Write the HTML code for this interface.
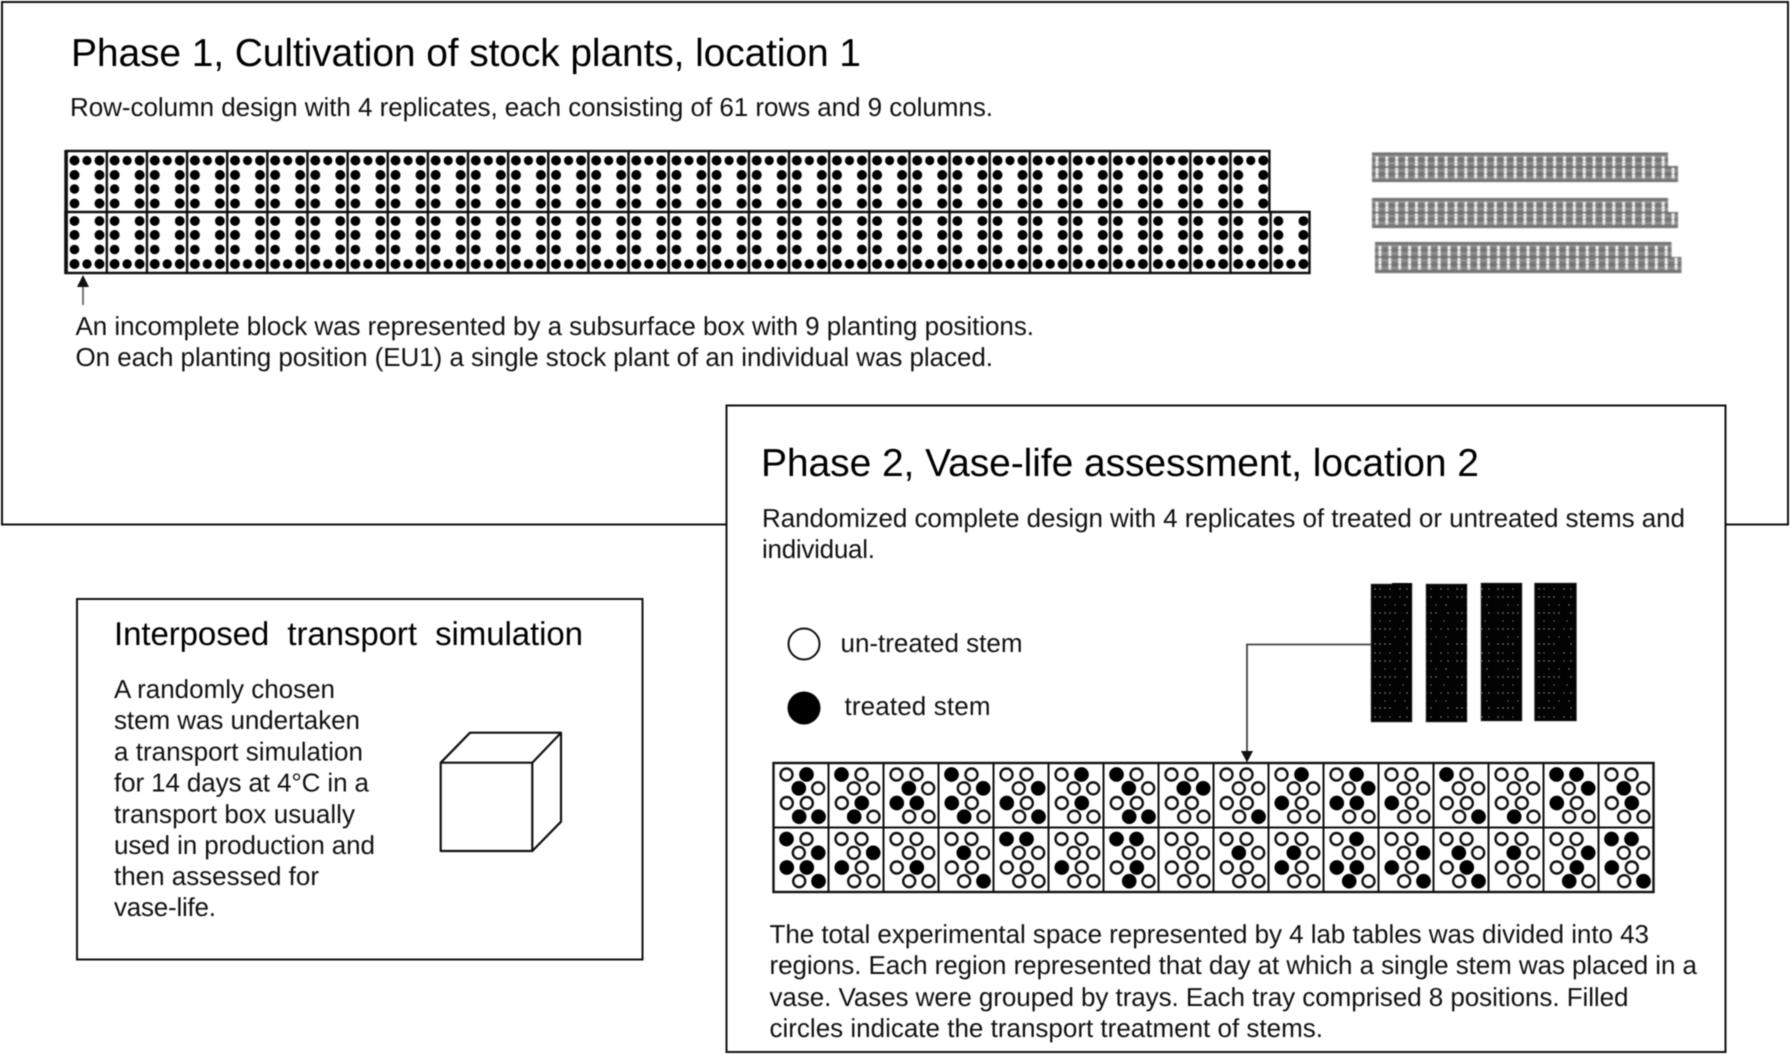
<!DOCTYPE html>
<html lang="en"><head><meta charset="utf-8"><title>Experimental design phases</title>
<style>
html,body{margin:0;padding:0;background:#fff;width:1792px;height:1057px;overflow:hidden}
svg{display:block;filter:blur(.4px)}
text{font-family:"Liberation Sans",Arial,sans-serif;fill:#111;font-size:26px;text-rendering:geometricPrecision}
.t{font-size:39px;fill:#000}
.s{font-size:33px;fill:#000}
</style></head><body>
<svg xmlns="http://www.w3.org/2000/svg" width="1792" height="1057" viewBox="0 0 1792 1057">
<defs>
<filter id="soft" x="-2%" y="-10%" width="104%" height="120%"><feGaussianBlur stdDeviation=".6"/></filter>
<pattern id="pt" patternUnits="userSpaceOnUse" x="65.5" y="150" width="40.13" height="62">
<rect width="40.13" height="62" fill="#fff"/><rect width="2.400" height="62" fill="#111"/>
<g fill="#000"><circle cx="9" cy="10.500" r="5"/><circle cx="21.500" cy="10.500" r="4.600"/><circle cx="34" cy="10.500" r="5"/>
<circle cx="9" cy="25" r="5"/><circle cx="34" cy="25" r="5"/><circle cx="9" cy="39" r="4.700"/><circle cx="34" cy="39" r="4.900"/><circle cx="9" cy="53.500" r="4.900"/><circle cx="34" cy="53.500" r="5"/></g></pattern>
<pattern id="pb" patternUnits="userSpaceOnUse" x="65.5" y="212" width="40.13" height="62">
<rect width="40.13" height="62" fill="#fff"/><rect width="2.400" height="62" fill="#111"/>
<g fill="#000"><circle cx="9" cy="9" r="4.900"/><circle cx="34" cy="9" r="4.900"/><circle cx="9" cy="23" r="5"/><circle cx="34" cy="23" r="5"/>
<circle cx="9" cy="37.500" r="4.800"/><circle cx="34" cy="37.500" r="4.900"/><circle cx="9" cy="52" r="5"/><circle cx="21.500" cy="52" r="4.700"/><circle cx="34" cy="52" r="5"/></g></pattern>
<pattern id="g1" patternUnits="userSpaceOnUse" x="1372" y="152.500" width="9.870" height="29.500">
<rect width="9.870" height="29.500" fill="#7c7c7c"/>
<g fill="#fff"><rect x="3.600" y="3.500" width="2.700" height="10"/><rect x="3.600" y="15.500" width="2.700" height="10.500"/></g>
<g fill="#555" opacity=".55"><rect y="0" width="9.870" height="1.600"/><rect y="7" width="9.870" height="1"/><rect y="14" width="9.870" height="1.300"/><rect y="21" width="9.870" height="1"/><rect y="28" width="9.870" height="1.500"/></g>
<g fill="#b5b5b5" opacity=".7"><rect y="3.500" width="9.870" height="1"/><rect y="10.500" width="9.870" height="1"/><rect y="17.500" width="9.870" height="1"/><rect y="24.500" width="9.870" height="1"/></g></pattern>
<pattern id="g2" patternUnits="userSpaceOnUse" x="1372" y="198" width="9.870" height="30">
<rect width="9.870" height="30" fill="#7c7c7c"/>
<g fill="#fff"><rect x="3.600" y="3.500" width="2.700" height="10"/><rect x="3.600" y="15.500" width="2.700" height="11"/></g>
<g fill="#555" opacity=".55"><rect y="0" width="9.870" height="1.600"/><rect y="7" width="9.870" height="1"/><rect y="14" width="9.870" height="1.300"/><rect y="21" width="9.870" height="1"/><rect y="28.500" width="9.870" height="1.500"/></g>
<g fill="#b5b5b5" opacity=".7"><rect y="3.500" width="9.870" height="1"/><rect y="10.500" width="9.870" height="1"/><rect y="17.500" width="9.870" height="1"/><rect y="24.500" width="9.870" height="1"/></g></pattern>
<pattern id="g3" patternUnits="userSpaceOnUse" x="1375" y="242" width="9.870" height="31">
<rect width="9.870" height="31" fill="#7c7c7c"/>
<g fill="#fff"><rect x="3.600" y="3.500" width="2.700" height="10.500"/><rect x="3.600" y="16" width="2.700" height="11.500"/></g>
<g fill="#555" opacity=".55"><rect y="0" width="9.870" height="1.600"/><rect y="7.500" width="9.870" height="1"/><rect y="14.500" width="9.870" height="1.300"/><rect y="22" width="9.870" height="1"/><rect y="29.500" width="9.870" height="1.500"/></g>
<g fill="#b5b5b5" opacity=".7"><rect y="3.500" width="9.870" height="1"/><rect y="11" width="9.870" height="1"/><rect y="18" width="9.870" height="1"/><rect y="25.500" width="9.870" height="1"/></g></pattern>
<pattern id="bk" patternUnits="userSpaceOnUse" x="1371" y="583" width="41" height="64">
<rect width="41" height="64" fill="#030303"/>
<g fill="#9a9a9a"><circle cx="4" cy="6" r=".7"/><circle cx="9" cy="6" r=".6"/><circle cx="19" cy="6" r=".6"/><circle cx="29" cy="6" r=".7"/><circle cx="36" cy="6" r=".6"/>
<circle cx="4" cy="14" r=".7"/><circle cx="9" cy="14" r=".7"/><circle cx="14" cy="14" r=".7"/><circle cx="19" cy="14" r=".7"/><circle cx="29" cy="14" r=".6"/><circle cx="36" cy="14" r=".7"/>
<circle cx="14" cy="22" r=".6"/><circle cx="24" cy="22" r=".6"/><circle cx="34" cy="22" r=".7"/>
<circle cx="4" cy="30" r=".7"/><circle cx="9" cy="30" r=".7"/><circle cx="14" cy="30" r=".7"/><circle cx="19" cy="30" r=".7"/><circle cx="24" cy="30" r=".7"/><circle cx="36" cy="30" r=".7"/>
<circle cx="9" cy="38" r=".6"/><circle cx="19" cy="38" r=".6"/><circle cx="32" cy="38" r=".6"/>
<circle cx="4" cy="46" r=".7"/><circle cx="9" cy="46" r=".7"/><circle cx="14" cy="46" r=".7"/><circle cx="19" cy="46" r=".7"/><circle cx="29" cy="46" r=".6"/><circle cx="36" cy="46" r=".7"/>
<circle cx="14" cy="54" r=".6"/><circle cx="24" cy="54" r=".6"/><circle cx="34" cy="54" r=".6"/>
<circle cx="4" cy="61" r=".7"/><circle cx="9" cy="61" r=".7"/><circle cx="14" cy="61" r=".7"/><circle cx="19" cy="61" r=".7"/><circle cx="36" cy="61" r=".7"/></g></pattern>
<g id="c" fill="#fff" stroke="#111" stroke-width="2.400">
<circle cx="13" cy="11.500" r="6"/><circle cx="33" cy="11.500" r="6"/><circle cx="25.300" cy="25.300" r="6"/><circle cx="44.700" cy="25.300" r="6"/>
<circle cx="13.300" cy="40" r="6"/><circle cx="33.300" cy="40" r="6"/><circle cx="25.700" cy="53.700" r="6"/><circle cx="45" cy="53.700" r="6"/></g>
<circle id="a" cx="13" cy="11.500" r="7.300"/><circle id="b" cx="33" cy="11.500" r="7.300"/><circle id="d" cx="25.300" cy="25.300" r="7.300"/><circle id="e" cx="44.700" cy="25.300" r="7.300"/>
<circle id="f" cx="13.300" cy="40" r="7.300"/><circle id="g" cx="33.300" cy="40" r="7.300"/><circle id="h" cx="25.700" cy="53.700" r="7.300"/><circle id="i" cx="45" cy="53.700" r="7.300"/>
</defs>
<rect width="1792" height="1057" fill="#fff"/>

<!-- Phase 1 box -->
<rect x="2" y="2" width="1786" height="522.500" fill="#fff" stroke="#111" stroke-width="2"/>
<text class="t" x="71" y="66" textLength="790" lengthAdjust="spacing">Phase 1, Cultivation of stock plants, location 1</text>
<text x="70" y="116" textLength="923" lengthAdjust="spacing">Row-column design with 4 replicates, each consisting of 61 rows and 9 columns.</text>

<!-- Plant grid -->
<rect x="65.500" y="150" width="1203.900" height="62" fill="url(#pt)"/>
<rect x="65.500" y="212" width="1244" height="62" fill="url(#pb)"/>
<path d="M65.500 151H1269.400V212M65.500 212H1309.500V273H65.500Z" fill="none" stroke="#111" stroke-width="2.400"/>
<path d="M65.500 150V273" stroke="#111" stroke-width="2.400"/>

<!-- Arrow below grid -->
<path d="M83 286V305" stroke="#666" stroke-width="1.800"/>
<path d="M83 275L77 287H89Z" fill="#111"/>
<text x="75.500" y="335" textLength="958.500" lengthAdjust="spacing">An incomplete block was represented by a subsurface box with 9 planting positions.</text>
<text x="75.500" y="366" textLength="917.500" lengthAdjust="spacing">On each planting position (EU1) a single stock plant of an individual was placed.</text>

<!-- Small grids -->
<path d="M1372 152.500H1668V166H1678V182H1372Z" fill="url(#g1)" filter="url(#soft)"/>
<path d="M1372 198H1668V212H1678V228H1372Z" fill="url(#g2)" filter="url(#soft)"/>
<path d="M1375 242H1671.500V257H1681.500V273H1375Z" fill="url(#g3)" filter="url(#soft)"/>

<!-- Transport box -->
<rect x="77" y="599" width="565.500" height="360.500" fill="#fff" stroke="#111" stroke-width="2"/>
<text class="s" x="114" y="645" textLength="469" lengthAdjust="spacing">Interposed&#160; transport&#160; simulation</text>
<text x="114" y="698" textLength="221" lengthAdjust="spacing">A randomly chosen</text>
<text x="114" y="729" textLength="246" lengthAdjust="spacing">stem was undertaken</text>
<text x="114" y="760.500" textLength="249" lengthAdjust="spacing">a transport simulation</text>
<text x="114" y="791.500" textLength="255" lengthAdjust="spacing">for 14 days at 4°C in a</text>
<text x="114" y="823" textLength="241" lengthAdjust="spacing">transport box usually</text>
<text x="114" y="854" textLength="261" lengthAdjust="spacing">used in production and</text>
<text x="114" y="885" textLength="205" lengthAdjust="spacing">then assessed for</text>
<text x="114" y="916" textLength="102" lengthAdjust="spacing">vase-life.</text>
<!-- Cube -->
<path d="M440.700 762.700H532.300V851H440.700ZM440.700 762.700L470 732.700H561L532.300 762.700M561 732.700V821.700L532.300 851" fill="#fff" stroke="#111" stroke-width="2.200" stroke-linejoin="round"/>

<!-- Phase 2 box -->
<rect x="726.500" y="405.500" width="999" height="646.500" fill="#fff" stroke="#111" stroke-width="2"/>
<text class="t" x="761" y="476" textLength="718" lengthAdjust="spacing">Phase 2, Vase-life assessment, location 2</text>
<text x="762" y="527" textLength="923" lengthAdjust="spacing">Randomized complete design with 4 replicates of treated or untreated stems and</text>
<text x="762" y="558" textLength="113" lengthAdjust="spacing">individual.</text>
<circle cx="804" cy="644" r="15.500" fill="#fff" stroke="#111" stroke-width="2"/>
<circle cx="804" cy="708" r="16.500" fill="#000"/>
<text x="840.500" y="652" textLength="182" lengthAdjust="spacing">un-treated stem</text>
<text x="844.500" y="715" textLength="146" lengthAdjust="spacing">treated stem</text>

<!-- Tables -->
<rect x="1371" y="584" width="41" height="138" fill="url(#bk)" stroke="#555" stroke-width=".6"/>
<rect x="1392" y="583" width="20" height="3" fill="#050505"/>
<rect x="1426" y="584" width="41" height="138" fill="url(#bk)" stroke="#555" stroke-width=".6"/>
<rect x="1481" y="583" width="41" height="138" fill="url(#bk)" stroke="#555" stroke-width=".6"/>
<rect x="1534.500" y="583" width="42" height="138" fill="url(#bk)" stroke="#555" stroke-width=".6"/>
<path d="M1371 644.500H1247V752" fill="none" stroke="#444" stroke-width="1.800"/>
<path d="M1247 762.500L1241 751H1253Z" fill="#111"/>

<!-- Phase 2 grid -->
<rect x="773.500" y="763" width="880" height="129" fill="#fff" stroke="#111" stroke-width="2.400"/>
<path d="M773.500 827.500H1653.500M828.500 763V892M883.500 763V892M938.500 763V892M993.500 763V892M1048.500 763V892M1103.500 763V892M1158.500 763V892M1213.500 763V892M1268.500 763V892M1323.500 763V892M1378.500 763V892M1433.500 763V892M1488.500 763V892M1543.500 763V892M1598.500 763V892" stroke="#111" stroke-width="2" fill="none"/>
<g fill="#000">
<!-- top row -->
<g transform="translate(773.500 763)"><use href="#c"/><use href="#b"/><use href="#d"/><use href="#h"/><use href="#i"/></g>
<g transform="translate(828.500 763)"><use href="#c"/><use href="#a"/><use href="#g"/><use href="#h"/></g>
<g transform="translate(883.500 763)"><use href="#c"/><use href="#d"/><use href="#f"/><use href="#g"/></g>
<g transform="translate(938.500 763)"><use href="#c"/><use href="#a"/><use href="#e"/><use href="#f"/><use href="#h"/></g>
<g transform="translate(993.500 763)"><use href="#c"/><use href="#e"/><use href="#f"/><use href="#i"/></g>
<g transform="translate(1048.500 763)"><use href="#c"/><use href="#b"/><use href="#g"/></g>
<g transform="translate(1103.500 763)"><use href="#c"/><use href="#a"/><use href="#d"/><use href="#h"/><use href="#i"/></g>
<g transform="translate(1158.500 763)"><use href="#c"/><use href="#d"/><use href="#e"/></g>
<g transform="translate(1213.500 763)"><use href="#c"/><use href="#i"/></g>
<g transform="translate(1268.500 763)"><use href="#c"/><use href="#b"/><use href="#f"/></g>
<g transform="translate(1323.500 763)"><use href="#c"/><use href="#b"/><use href="#e"/><use href="#f"/><use href="#g"/></g>
<g transform="translate(1378.500 763)"><use href="#c"/><use href="#f"/></g>
<g transform="translate(1433.500 763)"><use href="#c"/><use href="#a"/><use href="#i"/></g>
<g transform="translate(1488.500 763)"><use href="#c"/><use href="#h"/></g>
<g transform="translate(1543.500 763)"><use href="#c"/><use href="#a"/><use href="#b"/><use href="#e"/><use href="#f"/></g>
<g transform="translate(1598.500 763)"><use href="#c"/><use href="#d"/><use href="#g"/></g>
<!-- bottom row -->
<g transform="translate(773.500 827.500)"><use href="#c"/><use href="#a"/><use href="#e"/><use href="#f"/><use href="#g"/><use href="#i"/></g>
<g transform="translate(828.500 827.500)"><use href="#c"/><use href="#e"/><use href="#f"/></g>
<g transform="translate(883.500 827.500)"><use href="#c"/><use href="#g"/></g>
<g transform="translate(938.500 827.500)"><use href="#c"/><use href="#d"/><use href="#i"/></g>
<g transform="translate(993.500 827.500)"><use href="#c"/><use href="#a"/><use href="#b"/></g>
<g transform="translate(1048.500 827.500)"><use href="#c"/><use href="#f"/></g>
<g transform="translate(1103.500 827.500)"><use href="#c"/><use href="#a"/><use href="#b"/><use href="#g"/><use href="#h"/></g>
<g transform="translate(1158.500 827.500)"><use href="#c"/></g>
<g transform="translate(1213.500 827.500)"><use href="#c"/><use href="#d"/></g>
<g transform="translate(1268.500 827.500)"><use href="#c"/><use href="#d"/><use href="#f"/></g>
<g transform="translate(1323.500 827.500)"><use href="#c"/><use href="#b"/><use href="#f"/><use href="#g"/><use href="#h"/></g>
<g transform="translate(1378.500 827.500)"><use href="#c"/><use href="#e"/><use href="#f"/><use href="#i"/></g>
<g transform="translate(1433.500 827.500)"><use href="#c"/><use href="#d"/><use href="#g"/><use href="#i"/></g>
<g transform="translate(1488.500 827.500)"><use href="#c"/><use href="#d"/></g>
<g transform="translate(1543.500 827.500)"><use href="#c"/><use href="#e"/><use href="#g"/><use href="#h"/></g>
<g transform="translate(1598.500 827.500)"><use href="#c"/><use href="#a"/><use href="#b"/><use href="#f"/><use href="#i"/></g>
</g>

<text x="769.500" y="943" textLength="879.500" lengthAdjust="spacing">The total experimental space represented by 4 lab tables was divided into 43</text>
<text x="769.500" y="974" textLength="927.500" lengthAdjust="spacing">regions. Each region represented that day at which a single stem was placed in a</text>
<text x="769.500" y="1006" textLength="859" lengthAdjust="spacing">vase. Vases were grouped by trays. Each tray comprised 8 positions. Filled</text>
<text x="769.500" y="1037" textLength="553.500" lengthAdjust="spacing">circles indicate the transport treatment of stems.</text>
</svg>
</body></html>
